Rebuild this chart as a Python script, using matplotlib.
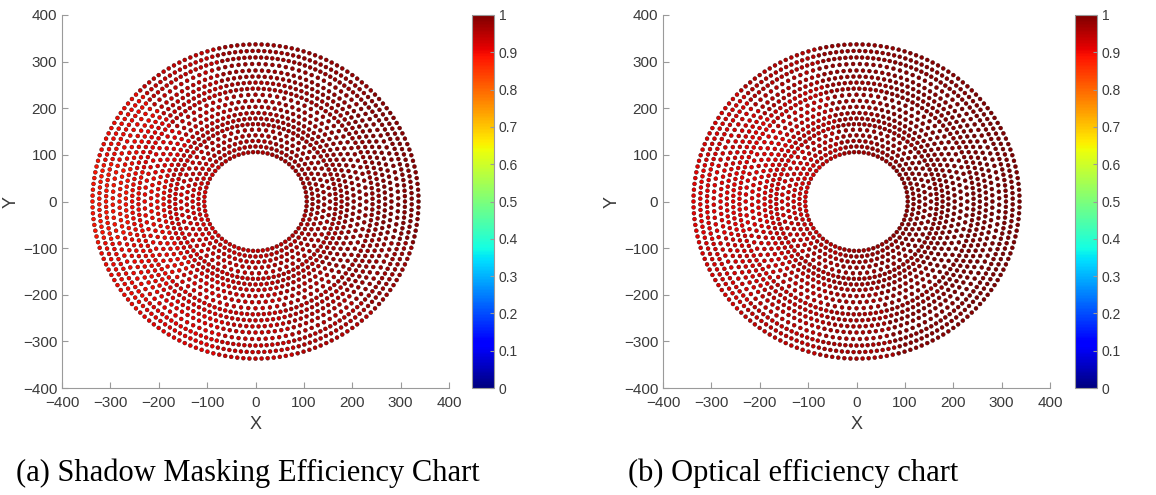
import numpy as np
import matplotlib.pyplot as plt

# ring radii of the heliostat field (m) and heliostats per ring
ring_radius = [106, 118, 130, 142, 154, 166, 178, 190, 203, 216,
               229, 242, 255, 268, 281, 295, 309, 323, 337]
ring_count = [66, 66, 66, 66, 66, 96, 96, 96, 96, 96,
              96, 132, 132, 132, 132, 132, 168, 168, 168]

# efficiency read per azimuth sector (centres 0,30,...,330 deg, from +x, ccw)
# rows: inner band (r<180), middle band (180-260), outer band (r>260)
sector_deg = [0, 30, 60, 90, 120, 150, 180, 210, 240, 270, 300, 330]
shadow_eff = [
    [0.97, 0.97, 0.97, 0.96, 0.95, 0.93, 0.92, 0.92, 0.93, 0.94, 0.95, 0.96],
    [0.98, 0.98, 0.97, 0.96, 0.94, 0.91, 0.90, 0.90, 0.92, 0.93, 0.95, 0.97],
    [0.99, 0.99, 0.98, 0.97, 0.94, 0.90, 0.89, 0.90, 0.91, 0.93, 0.95, 0.97],
]
optical_eff = [
    [0.99, 0.99, 0.98, 0.97, 0.94, 0.92, 0.92, 0.93, 0.95, 0.97, 0.98, 0.99],
    [1.00, 0.99, 0.99, 0.97, 0.93, 0.91, 0.91, 0.92, 0.94, 0.96, 0.98, 1.00],
    [1.00, 1.00, 0.99, 0.98, 0.95, 0.92, 0.91, 0.92, 0.94, 0.96, 0.99, 1.00],
]
band_edges = [180, 260]

captions = ["(a) Shadow Masking Efficiency Chart", "(b) Optical efficiency chart"]

# build field positions (radial stagger)
xs, ys, band, sector = [], [], [], []
for i, (r, n) in enumerate(zip(ring_radius, ring_count)):
    th = np.arange(n) * 2 * np.pi / n + (np.pi / n if i % 2 else 0)
    xs.append(r * np.cos(th))
    ys.append(r * np.sin(th))
    band.append(np.full(n, np.searchsorted(band_edges, r)))
    deg = np.degrees(th) % 360
    sector.append(np.round(deg / 30).astype(int) % 12)
xs = np.concatenate(xs)
ys = np.concatenate(ys)
band = np.concatenate(band)
sector = np.concatenate(sector)

W, H = 1156, 495
fig = plt.figure(figsize=(W / 100, H / 100), dpi=100)
plt.rcParams['font.family'] = ['Liberation Sans', 'DejaVu Sans']

ax_left = [62, 663]
cb_left = [472, 1075]
cap_x = [248, 793]
tick_col = '#3a3a3a'
for k, eff in enumerate([shadow_eff, optical_eff]):
    vals = np.array(eff)[band, sector]
    ax = fig.add_axes([ax_left[k] / W, 107 / H, 387 / W, 373 / H])
    sc = ax.scatter(xs, ys, c=vals, cmap='jet', vmin=0, vmax=1, s=8,
                    edgecolors='#300000', linewidths=0.3)
    ax.set_xlim(-400, 400)
    ax.set_ylim(-400, 400)
    ax.set_xticks(range(-400, 401, 100))
    ax.set_yticks(range(-400, 401, 100))
    for s in ['top', 'right']:
        ax.spines[s].set_visible(False)
    for s in ['left', 'bottom']:
        ax.spines[s].set_color('#9a9a9a')
    ax.tick_params(direction='in', length=4, color='#9a9a9a',
                   labelcolor=tick_col, labelsize=11)
    ax.tick_params(axis='x', pad=6)
    ax.set_xlabel('X', fontsize=13, color=tick_col, labelpad=4)
    ax.set_ylabel('Y', fontsize=13, color=tick_col, labelpad=2)

    cax = fig.add_axes([cb_left[k] / W, 107 / H, 22 / W, 373 / H])
    cb = fig.colorbar(sc, cax=cax, ticks=np.round(np.arange(0, 1.01, 0.1), 1))
    cb.ax.set_yticklabels(['0', '0.1', '0.2', '0.3', '0.4', '0.5', '0.6',
                           '0.7', '0.8', '0.9', '1'])
    cb.outline.set_edgecolor('#9a9a9a')
    cb.ax.tick_params(direction='in', length=3, color='#9a9a9a',
                      labelcolor=tick_col, labelsize=10)

    fig.text(cap_x[k] / W, 1 - 473 / H, captions[k], ha='center', va='center',
             fontsize=22, family=['Liberation Serif', 'DejaVu Serif'])

fig.savefig('out.png', dpi=100)
